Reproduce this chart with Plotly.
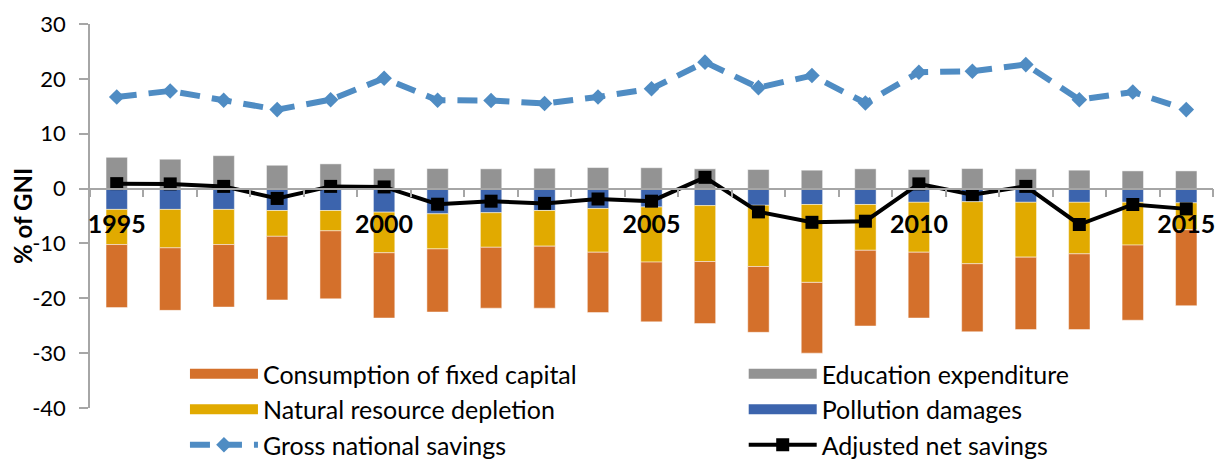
import plotly.graph_objects as go

years = [str(y) for y in range(1995, 2016)]
tick_labels = [y if int(y) % 5 == 0 else "" for y in years]
y_tick_values = [-40, -30, -20, -10, 0, 10, 20, 30]
y_tick_labels = ["-40", "-30", "-20", "-10", "0", "10", "20", "30"]

education = [5.7, 5.35, 6.0, 4.25, 4.5, 3.65, 3.65, 3.6, 3.7, 3.83, 3.8, 3.6, 3.47, 3.35, 3.6, 3.47, 3.65, 3.6, 3.35, 3.22, 3.22]
pollution = [-3.8, -3.8, -3.8, -4.0, -4.0, -4.3, -4.6, -4.4, -4.0, -3.65, -3.35, -3.1, -3.05, -2.9, -2.9, -2.5, -2.4, -2.5, -2.5, -2.5, -2.6]
natural = [-6.4, -7.0, -6.4, -4.7, -3.7, -7.4, -6.4, -6.3, -6.5, -7.95, -10.05, -10.2, -11.15, -14.2, -8.35, -9.1, -11.3, -10.0, -9.4, -7.8, -4.9]
consumption = [-11.5, -11.4, -11.4, -11.6, -12.4, -11.9, -11.5, -11.1, -11.3, -11.0, -10.9, -11.3, -12.0, -12.9, -13.8, -12.0, -12.4, -13.2, -13.8, -13.7, -13.85]
gross_savings = [16.7, 17.8, 16.1, 14.4, 16.2, 20.1, 16.1, 16.05, 15.5, 16.7, 18.2, 23.05, 18.4, 20.6, 15.6, 21.2, 21.4, 22.6, 16.2, 17.6, 14.4]
adjusted_savings = [0.9, 0.85, 0.4, -1.8, 0.4, 0.3, -2.85, -2.3, -2.7, -1.9, -2.3, 2.05, -4.25, -6.15, -5.95, 0.85, -1.1, 0.4, -6.55, -2.9, -3.7]

FONT = "Lato"
C_CONS = "#D4702B"
C_EDU = "#939393"
C_NAT = "#E1AA00"
C_POL = "#3C64AD"
C_GNS = "#4F8CC3"
C_ANS = "#000000"

# the page body has an 8px margin, so the figure is placed at (8, 8) in the window
OFF = 8
W, H = 1225 - OFF, 462 - OFF
ML, MT = 90 - OFF, 24 - OFF
PW, PH = 1123.5, 384
MR, MB = W - ML - PW, H - MT - PH

fig = go.Figure()
edge = dict(color="rgba(255,255,255,0.6)", width=0.8)
bars = [
    ("Education expenditure", education, C_EDU, "legend2", 2),
    ("Pollution damages", pollution, C_POL, "legend2", 4),
    ("Natural resource depletion", natural, C_NAT, "legend", 3),
    ("Consumption of fixed capital", consumption, C_CONS, "legend", 1),
]
for name, vals, col, leg, rank in bars:
    fig.add_bar(x=years, y=vals, name=name, marker=dict(color=col, line=edge),
                showlegend=False, legendgroup=name)
    # legend entry drawn as a wide swatch (Excel style)
    fig.add_scatter(x=[None], y=[None], mode="lines", name=name,
                    line=dict(color=col, width=16), legend=leg, legendrank=rank,
                    legendgroup=name, hoverinfo="skip")

fig.add_scatter(x=years, y=gross_savings, name="Gross national savings", mode="lines+markers",
                line=dict(color=C_GNS, width=6, dash="20px,12px"),
                marker=dict(symbol="diamond", size=12, color=C_GNS),
                legend="legend", legendrank=5, legendgroup="gns")
fig.add_scatter(x=years, y=adjusted_savings, name="Adjusted net savings", mode="lines+markers",
                line=dict(color=C_ANS, width=4),
                marker=dict(symbol="square", size=13, color=C_ANS),
                legend="legend2", legendrank=6, legendgroup="ans")

ymin, ymax = -40, 30


def px_to_paper_x(page_x):
    return (page_x - OFF - ML) / PW


def px_to_paper_y(page_y):
    return (MT + PH - (page_y - OFF)) / PH


legend_common = dict(
    orientation="v", yanchor="top", y=px_to_paper_y(351), xanchor="left",
    font=dict(family=FONT, size=25, color="#000000"),
    bgcolor="rgba(0,0,0,0)", itemwidth=68, tracegroupgap=0,
    traceorder="normal",
)
fig.update_layout(
    width=W, height=H,
    margin=dict(l=ML, r=MR, t=MT, b=MB, autoexpand=False),
    paper_bgcolor="white", plot_bgcolor="white",
    barmode="relative", bargap=0.6,
    font=dict(family=FONT, color="#000000"),
    legend=dict(x=px_to_paper_x(185), **legend_common),
    legend2=dict(x=px_to_paper_x(744), **legend_common),
    xaxis=dict(
        type="category", anchor="free", position=(0 - ymin) / (ymax - ymin),
        showline=True, linecolor="#A6A6A6", linewidth=1.5,
        ticks="outside", ticklen=8, tickcolor="#A6A6A6", tickwidth=1.5,
        tickson="boundaries", tickmode="array", tickvals=years, ticktext=tick_labels,
        tickangle=0,
        tickfont=dict(family=FONT, size=25, color="#000000", weight="bold"),
        ticklabelstandoff=14,
        showgrid=False, zeroline=False, range=[-0.5, len(years) - 0.5],
    ),
    yaxis=dict(
        range=[ymin, ymax], domain=[0, 1], tickmode="array",
        tickvals=y_tick_values, ticktext=y_tick_labels,
        showline=True, linecolor="#A6A6A6", linewidth=1.5,
        ticks="outside", ticklen=9, tickcolor="#A6A6A6", tickwidth=1.5,
        tickfont=dict(family=FONT, size=22, color="#000000"),
        ticklabelstandoff=9,
        showgrid=False, zeroline=False,
        title=dict(text="% of GNI", font=dict(family=FONT, size=24, color="#000000", weight="bold")),
    ),
)

fig.write_html("out.html")
